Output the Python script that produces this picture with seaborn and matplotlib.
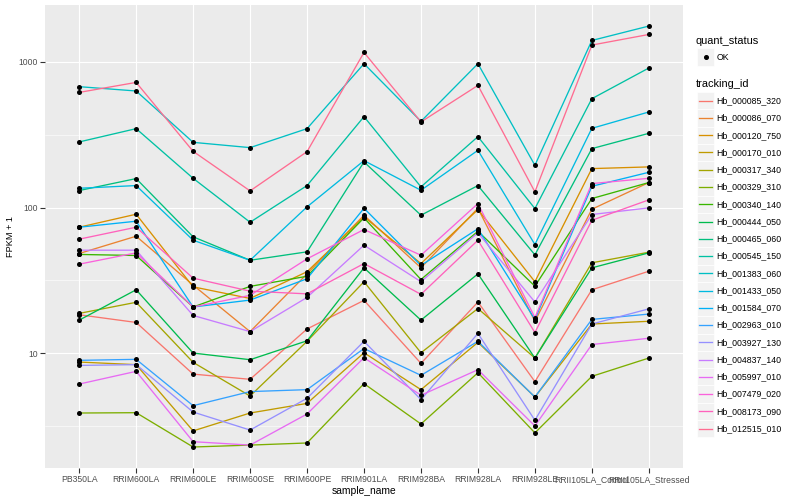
import numpy as np
import pandas as pd
import matplotlib
matplotlib.use("Agg")
import matplotlib.pyplot as plt
import seaborn as sns
from matplotlib.patches import Rectangle
from matplotlib.lines import Line2D
from matplotlib.ticker import NullFormatter

plt.rcParams['font.family'] = ['Liberation Sans', 'DejaVu Sans']

samples = ["PB350LA", "RRIM600LA", "RRIM600LE", "RRIM600SE", "RRIM600PE",
           "RRIM901LA", "RRIM928BA", "RRIM928LA", "RRIM928LE",
           "RRII105LA_Control", "RRII105LA_Stressed"]

Hb_000085_320 = [18.4, 16.3, 7.21, 6.64, 14.7, 23.1, 8.54, 22.5, 6.40, 27.3, 36.6]
Hb_000086_070 = [48.4, 63.6, 29.4, 14.1, 35.1, 88.6, 38.6, 98.9, 16.6, 97.4, 148.4]
Hb_000120_750 = [73.3, 90.0, 28.6, 23.8, 36.3, 86.4, 41.3, 96.9, 31.0, 185.0, 190.0]
Hb_000170_010 = [8.72, 8.37, 2.94, 3.90, 4.54, 10.1, 5.64, 11.9, 5.02, 15.9, 16.6]
Hb_000317_340 = [18.8, 22.4, 8.68, 5.10, 12.1, 31.0, 10.1, 20.3, 9.29, 41.8, 49.4]
Hb_000329_310 = [3.90, 3.92, 2.28, 2.35, 2.43, 6.20, 3.28, 7.37, 2.85, 6.96, 9.29]
Hb_000340_140 = [47.7, 46.9, 20.8, 28.8, 33.8, 85.0, 32.1, 68.8, 28.9, 115.3, 148.4]
Hb_000444_050 = [16.9, 27.3, 10.05, 9.05, 12.2, 38.6, 16.9, 35.1, 9.29, 38.6, 48.9]
Hb_000465_060 = [130.8, 158.0, 63.0, 43.5, 49.7, 205.6, 88.6, 141.5, 47.4, 253.6, 322.8]
Hb_000545_150 = [281.8, 347.6, 158.7, 79.3, 141.5, 420.2, 138.6, 306.4, 98.4, 557.8, 905.4]
Hb_001383_060 = [674.4, 630.0, 280.0, 257.6, 347.6, 969.0, 390.0, 969.0, 194.9, 1399.0, 1756.0]
Hb_001433_050 = [135.6, 141.5, 59.7, 43.5, 101.1, 209.8, 131.4, 246.9, 55.8, 349.3, 452.3]
Hb_001584_070 = [73.3, 80.6, 20.8, 23.2, 32.5, 98.9, 40.1, 71.5, 17.1, 139.9, 174.5]
Hb_002963_010 = [8.96, 9.10, 4.38, 5.47, 5.64, 10.8, 7.07, 12.1, 5.02, 17.1, 18.6]
Hb_003927_130 = [8.27, 8.37, 3.96, 2.98, 4.92, 12.1, 4.82, 13.7, 3.48, 15.9, 20.2]
Hb_004837_140 = [51.0, 51.0, 18.2, 14.1, 24.2, 55.2, 31.0, 67.1, 22.5, 89.6, 99.5]
Hb_005997_010 = [6.16, 7.53, 2.48, 2.35, 3.84, 9.34, 5.16, 7.73, 3.18, 11.5, 12.7]
Hb_007479_020 = [40.9, 48.9, 20.8, 25.0, 44.5, 70.7, 47.1, 106.5, 17.6, 146.0, 158.7]
Hb_008173_090 = [60.7, 73.3, 32.8, 26.7, 25.6, 41.3, 25.4, 59.7, 13.9, 81.8, 112.9]
Hb_012515_010 = [616.0, 721.4, 243.0, 130.1, 241.8, 1158.0, 386.4, 688.0, 128.1, 1301.0, 1538.0]

tracking_ids = ["Hb_000085_320", "Hb_000086_070", "Hb_000120_750", "Hb_000170_010",
                "Hb_000317_340", "Hb_000329_310", "Hb_000340_140", "Hb_000444_050",
                "Hb_000465_060", "Hb_000545_150", "Hb_001383_060", "Hb_001433_050",
                "Hb_001584_070", "Hb_002963_010", "Hb_003927_130", "Hb_004837_140",
                "Hb_005997_010", "Hb_007479_020", "Hb_008173_090", "Hb_012515_010"]
series = [Hb_000085_320, Hb_000086_070, Hb_000120_750, Hb_000170_010,
          Hb_000317_340, Hb_000329_310, Hb_000340_140, Hb_000444_050,
          Hb_000465_060, Hb_000545_150, Hb_001383_060, Hb_001433_050,
          Hb_001584_070, Hb_002963_010, Hb_003927_130, Hb_004837_140,
          Hb_005997_010, Hb_007479_020, Hb_008173_090, Hb_012515_010]

palette = ["#F8766D", "#EA8331", "#D89000", "#C09B00", "#A3A500", "#7CAE00",
           "#39B600", "#00BB4E", "#00BF7D", "#00C1A3", "#00BFC4", "#00BAE0",
           "#00B0F6", "#35A2FF", "#9590FF", "#C77CFF", "#E76BF3", "#FA62DB",
           "#FF62BC", "#FF6C91"]

y_ticks = [10, 100, 1000]
y_tick_labels = ["10", "100", "1000"]
y_minor = [10 ** 0.5, 10 ** 1.5, 10 ** 2.5]

rows = []
for tid, vals in zip(tracking_ids, series):
    for s, v in zip(samples, vals):
        rows.append({"tracking_id": tid, "sample_name": s, "FPKM + 1": v, "quant_status": "OK"})
df = pd.DataFrame(rows)

W, H = 800, 500
fig = plt.figure(figsize=(8, 5), dpi=100)
L, R, T, B = 45, 683, 5, 468
ax = fig.add_axes([L / W, 1 - B / H, (R - L) / W, (B - T) / H])
ax.set_facecolor("#EBEBEB")
ax.set_yscale("log")

sns.lineplot(data=df, x="sample_name", y="FPKM + 1", hue="tracking_id",
             hue_order=tracking_ids, palette=palette, estimator=None, sort=False,
             linewidth=0.95, legend=False, ax=ax, zorder=2)
sns.scatterplot(data=df, x="sample_name", y="FPKM + 1", color="black", s=13,
                linewidth=0, legend=False, ax=ax, zorder=3)

ax.set_xlim(-0.6, len(samples) - 0.4)
ax.set_ylim(10 ** 0.214, 10 ** 3.389)
ax.set_yticks(y_ticks)
ax.set_yticklabels(y_tick_labels)
ax.set_yticks(y_minor, minor=True)
ax.yaxis.set_minor_formatter(NullFormatter())
ax.set_xticks(range(len(samples)))
ax.set_xticklabels(samples)

for sp in ax.spines.values():
    sp.set_visible(False)
ax.grid(which="major", color="white", linewidth=0.85)
ax.grid(which="minor", axis="y", color="white", linewidth=0.4)
ax.set_axisbelow(True)
ax.tick_params(which="major", length=3.5, width=0.8, color="#333333",
               labelcolor="#4D4D4D", labelsize=6.2, pad=1.5)
ax.tick_params(which="minor", length=0)

ax.set_xlabel("sample_name", fontsize=7.4, labelpad=1.5)
ax.set_ylabel("FPKM + 1", fontsize=6.6, labelpad=3)

# legend
def fx(x):
    return x / W

def fy(y):
    return 1 - y / H

fig.text(fx(696), fy(40.7), "quant_status", fontsize=7.9, va="center", ha="left")
fig.patches.append(Rectangle((fx(697), fy(65.5)), 17 / W, 17 / H, transform=fig.transFigure,
                             facecolor="#F2F2F2", edgecolor="white", linewidth=0.5))
fig.lines.append(Line2D([fx(705.5)], [fy(57)], marker="o", markersize=2.6, color="black",
                        linestyle="none", transform=fig.transFigure))
fig.text(fx(716.7), fy(57), "OK", fontsize=6.3, va="center", ha="left")

fig.text(fx(696), fy(84.3), "tracking_id", fontsize=7.9, va="center", ha="left")
step = 17.26
for i, (tid, col) in enumerate(zip(tracking_ids, palette)):
    yc = 100.7 + i * step
    fig.patches.append(Rectangle((fx(697), fy(yc + step / 2)), 17 / W, step / H,
                                 transform=fig.transFigure, facecolor="#F2F2F2",
                                 edgecolor="white", linewidth=0.5))
    fig.lines.append(Line2D([fx(699), fx(712)], [fy(yc), fy(yc)], color=col,
                            linewidth=0.95, transform=fig.transFigure))
    fig.text(fx(716.7), fy(yc), tid, fontsize=6.3, va="center", ha="left")

fig.savefig("out.png", dpi=100, facecolor="white")
